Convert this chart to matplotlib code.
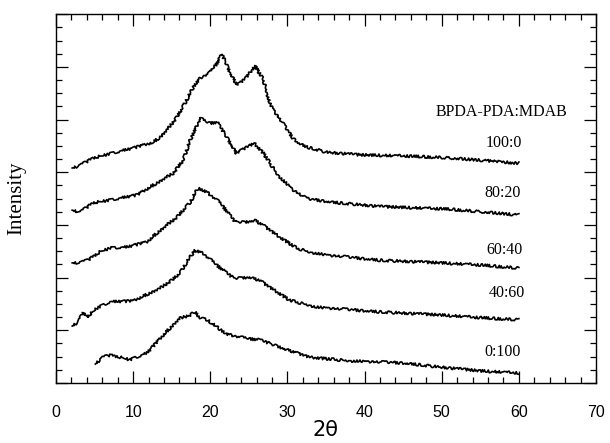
import numpy as np
import matplotlib.pyplot as plt
from matplotlib.ticker import MultipleLocator, NullFormatter

### XRD patterns (offset for clarity), 2-theta vs intensity
x_100_0 = [2.1, 3.0, 4.8, 7.0, 10.0, 12.6, 13.5, 14.6, 15.7, 16.8, 17.8, 18.7, 20.0, 20.8, 21.5,
           22.6, 23.5, 24.7, 25.8, 26.9, 27.7, 28.5, 29.4, 30.7, 31.5, 32.5, 35.1, 39.4, 45.0,
           50.0, 55.0, 60.0]
y_100_0 = [4.08, 4.12, 4.27, 4.35, 4.46, 4.57, 4.67, 4.84, 5.05, 5.33, 5.62, 5.79, 5.90, 6.05, 6.24,
           5.88, 5.65, 5.81, 6.02, 5.75, 5.31, 5.12, 4.93, 4.65, 4.55, 4.48, 4.38, 4.33, 4.31,
           4.28, 4.23, 4.17]

x_80_20 = [2.1, 3.1, 4.8, 7.0, 10.5, 13.1, 15.2, 16.5, 17.4, 18.7, 19.5, 20.0, 20.9, 22.1, 23.4,
           24.7, 25.7, 26.9, 28.6, 29.4, 30.8, 32.5, 35.9, 42.0, 51.0, 55.0, 60.0]
y_80_20 = [3.28, 3.24, 3.42, 3.47, 3.57, 3.80, 3.98, 4.23, 4.61, 5.03, 4.95, 4.93, 4.95, 4.67, 4.36,
           4.48, 4.55, 4.36, 3.98, 3.85, 3.66, 3.50, 3.43, 3.35, 3.30, 3.25, 3.19]

x_60_40 = [2.1, 3.0, 4.1, 5.7, 7.0, 9.2, 11.8, 13.1, 15.7, 17.4, 18.4, 19.6, 20.9, 21.7, 23.2,
           24.5, 25.8, 27.0, 29.0, 31.2, 33.0, 35.1, 42.0, 50.0, 55.0, 60.0]
y_60_40 = [2.28, 2.28, 2.33, 2.49, 2.56, 2.58, 2.68, 2.85, 3.15, 3.43, 3.70, 3.62, 3.47, 3.34, 3.06,
           3.05, 3.09, 2.98, 2.77, 2.56, 2.48, 2.43, 2.33, 2.28, 2.24, 2.18]

x_40_60 = [2.1, 2.9, 3.5, 4.0, 5.3, 7.0, 10.0, 13.5, 15.0, 16.1, 17.1, 18.0, 19.1, 20.8, 23.0,
           23.9, 25.1, 26.4, 27.7, 30.3, 33.8, 42.0, 50.0, 55.0, 60.0]
y_40_60 = [1.08, 1.16, 1.33, 1.25, 1.42, 1.54, 1.56, 1.80, 1.95, 2.09, 2.33, 2.52, 2.46, 2.24, 1.99,
           1.99, 2.01, 1.95, 1.82, 1.57, 1.44, 1.35, 1.29, 1.24, 1.20]

x_0_100 = [5.1, 6.1, 7.0, 8.3, 9.6, 11.8, 13.9, 15.4, 16.1, 17.4, 18.0, 18.7, 19.6, 22.1, 24.9,
           26.4, 29.0, 32.9, 38.1, 42.0, 45.0, 50.0, 55.0, 60.0]
y_0_100 = [0.36, 0.49, 0.53, 0.49, 0.44, 0.57, 0.91, 1.14, 1.23, 1.29, 1.35, 1.23, 1.20, 0.93, 0.84,
           0.82, 0.68, 0.49, 0.42, 0.40, 0.38, 0.30, 0.23, 0.19]

labels = ['100:0', '80:20', '60:40', '40:60', '0:100']
label_x = [58.1, 57.9, 58.1, 58.4, 57.9]
label_y = [4.55, 3.60, 2.52, 1.71, 0.59]

series = [(x_100_0, y_100_0), (x_80_20, y_80_20), (x_60_40, y_60_40),
          (x_40_60, y_40_60), (x_0_100, y_0_100)]

### Plot
fig = plt.figure(figsize=(6.1, 4.43), dpi=100)
ax = fig.add_axes([0.0918, 0.1354, 0.8852, 0.8326])

for xs, ys in series:
    ln, = ax.plot(xs, ys, color='black', linewidth=1.2)
    # detector noise look
    ln.set_sketch_params(scale=1.3, length=1.0, randomness=2)

for lab, lx, ly in zip(labels, label_x, label_y):
    ax.text(lx, ly, lab, family='Liberation Serif', fontsize=11.5, ha='center', va='center')
ax.text(57.8, 5.14, 'BPDA-PDA:MDAB', family='Liberation Serif', fontsize=11.5,
        ha='center', va='center')

ax.set_xlim(0, 70)
ax.set_ylim(0, 7)
ax.xaxis.set_major_locator(MultipleLocator(10))
ax.xaxis.set_minor_locator(MultipleLocator(2))
ax.yaxis.set_major_locator(MultipleLocator(1))
ax.yaxis.set_minor_locator(MultipleLocator(0.25))
ax.yaxis.set_major_formatter(NullFormatter())

ax.tick_params(which='both', direction='in', top=True, right=True, width=0.9)
ax.tick_params(which='major', length=8.5)
ax.tick_params(which='minor', length=4.5)
ax.tick_params(axis='x', pad=16, labelsize=11.5)
for lbl in ax.get_xticklabels():
    lbl.set_family('Liberation Sans')

for sp in ax.spines.values():
    sp.set_linewidth(1.0)

ax.set_xlabel('2θ', family='DejaVu Sans', fontsize=15, labelpad=0)
ax.set_ylabel('Intensity', family='Liberation Serif', fontsize=15, labelpad=18)

plt.savefig('out.png', dpi=100)
